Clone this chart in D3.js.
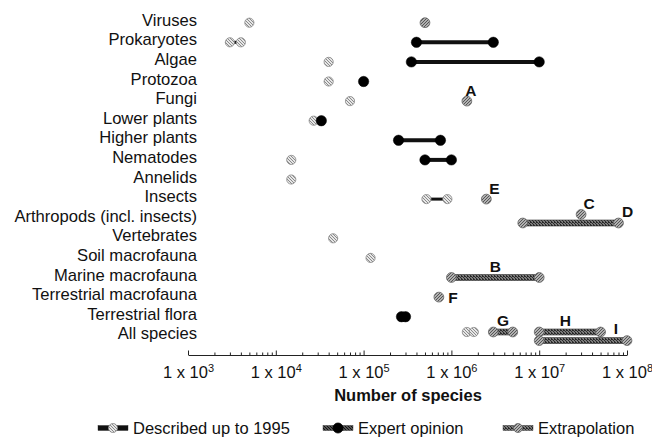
<!DOCTYPE html>
<html><head><meta charset="utf-8">
<script src="https://cdn.jsdelivr.net/npm/d3@7/dist/d3.min.js"></script>
<style>
html,body{margin:0;padding:0;background:#fff;}
svg{display:block;font-family:"Liberation Sans",Arial,Helvetica,sans-serif;}
</style></head>
<body><svg id="c" width="652" height="438"></svg>
<script>
// ---------------- data ----------------
const categories = ["Viruses","Prokaryotes","Algae","Protozoa","Fungi","Lower plants","Higher plants",
  "Nematodes","Annelids","Insects","Arthropods (incl. insects)","Vertebrates","Soil macrofauna",
  "Marine macrofauna","Terrestrial macrofauna","Terrestrial flora","All species"];
// [category, low, high, lane]  lane: 0 centre, -1 upper, 1 lower
const described = [
  ["Viruses",5000,5000,0],["Prokaryotes",3000,4000,0],["Algae",40000,40000,0],["Protozoa",40000,40000,0],
  ["Fungi",70000,70000,0],["Lower plants",27000,27000,0],["Nematodes",15000,15000,0],["Annelids",15000,15000,0],
  ["Insects",520000,900000,0],["Vertebrates",45000,45000,0],["Soil macrofauna",120000,120000,0],
  ["All species",1500000,1800000,-1]
];
const expert = [
  ["Prokaryotes",400000,3000000,0],["Algae",350000,10000000,0],["Protozoa",100000,100000,0],
  ["Lower plants",33000,33000,0],["Higher plants",250000,750000,0],["Nematodes",500000,1000000,0],
  ["Terrestrial flora",270000,300000,0]
];
const extrapolation = [
  ["Viruses",500000,500000,0],["Fungi",1500000,1500000,0],["Insects",2500000,2500000,0],
  ["Arthropods (incl. insects)",30000000,30000000,-1],["Arthropods (incl. insects)",6500000,80000000,1],
  ["Marine macrofauna",1000000,10000000,0],["Terrestrial macrofauna",720000,720000,0],
  ["All species",3000000,5000000,-1],["All species",10000000,50000000,-1],["All species",10000000,100000000,1]
];
// letter annotations: [letter, category, value the letter refers to, lane]
const annotations = [
  ["A","Fungi",1500000,0],["E","Insects",2500000,0],["C","Arthropods (incl. insects)",30000000,-1],
  ["D","Arthropods (incl. insects)",80000000,1],["B","Marine macrofauna",3160000,0],
  ["F","Terrestrial macrofauna",720000,0],["G","All species",3870000,-1],["H","All species",22000000,-1],
  ["I","All species",100000000,1]
];
const tickValues = [1e3,1e4,1e5,1e6,1e7,1e8];
const tickExponents = ["3","4","5","6","7","8"];
const axisTitle = "Number of species";
const legendLabels = ["Described up to 1995","Expert opinion","Extrapolation"];

// ---------------- layout ----------------
const svg = d3.select("#c");
const x = d3.scaleLog().domain([1e3,1e8]).range([188,627]);
const y = d3.scalePoint().domain(categories).range([22.7,336.3]);
const laneOff = 4.3;
const yy = (cat,lane) => y(cat) + lane*laneOff;

// patterns
const defs = svg.append("defs");
function pat(id, bg, fg, cells){
  const p = defs.append("pattern").attr("id",id).attr("width",3).attr("height",3).attr("patternUnits","userSpaceOnUse");
  p.append("rect").attr("width",3).attr("height",3).attr("fill",bg);
  cells.forEach(c=>p.append("rect").attr("x",c[0]).attr("y",c[1]).attr("width",1).attr("height",1).attr("fill",fg));
}
pat("pDesc","#e6e6e6","#8a8a8a",[[0,0],[1,1],[2,2]]);
pat("pExt","#b0b0b0","#555",[[0,0],[2,1],[1,2]]);
pat("pBar","#7a7a7a","#2a2a2a",[[0,0],[1,1],[2,2],[2,0]]);
pat("pLeg","#555","#111",[[0,0],[1,1],[2,2]]);

const g = svg.append("g");

// category labels
g.selectAll("text.cat").data(categories).join("text").attr("class","cat")
  .attr("x",197).attr("y",d=>y(d)+3).attr("text-anchor","end")
  .attr("font-size",16.6).attr("fill","#111").text(d=>d);

// axis
const axisY = 355;
const minor = [];
for(let e=3;e<8;e++) for(let m=2;m<=9;m++) minor.push(m*Math.pow(10,e));
const ax = g.append("g").attr("transform",`translate(0,${axisY})`);
ax.call(d3.axisBottom(x).tickValues(minor).tickSize(-2.5).tickSizeOuter(0).tickFormat(""));
ax.selectAll("path,line").attr("stroke","#222");
const ax2 = g.append("g").attr("transform",`translate(0,${axisY})`);
ax2.call(d3.axisBottom(x).tickValues(tickValues).tickSize(-4.5).tickSizeOuter(0).tickPadding(11).tickFormat(""));
ax2.select("path").remove();
ax2.selectAll("line").attr("stroke","#222");
ax2.selectAll(".tick text").each(function(d,i){
  const t = d3.select(this).attr("font-size",16.5).attr("fill","#111")
    .attr("font-family",'"Liberation Sans",Arial,sans-serif');
  t.append("tspan").text("1 x 10");
  t.append("tspan").attr("font-size",11).attr("dy","-0.55em").text(tickExponents[i]);
});
g.append("text").attr("x",408).attr("y",401).attr("text-anchor","middle")
  .attr("font-size",16.5).attr("font-weight","bold").attr("fill","#111").text(axisTitle);

// ---------------- marks ----------------
function drawSeries(data, style){
  const s = g.append("g");
  const rng = data.filter(d=>d[1]!==d[2]);
  if(style.bar==="black"){
    s.selectAll("line").data(rng).join("line")
      .attr("x1",d=>x(d[1])).attr("x2",d=>x(d[2]))
      .attr("y1",d=>yy(d[0],d[3])).attr("y2",d=>yy(d[0],d[3]))
      .attr("stroke","#111").attr("stroke-width",style.barW);
  } else {
    s.selectAll("rect").data(rng).join("rect")
      .attr("x",d=>x(d[1])).attr("width",d=>x(d[2])-x(d[1]))
      .attr("y",d=>yy(d[0],d[3])-3).attr("height",6)
      .attr("fill","url(#pBar)").attr("stroke","#333").attr("stroke-width",0.6);
  }
  const pts = [];
  data.forEach(d=>{ pts.push([d[0],d[1],d[3]]); if(d[1]!==d[2]) pts.push([d[0],d[2],d[3]]); });
  s.selectAll("circle").data(pts).join("circle")
    .attr("cx",d=>x(d[1])).attr("cy",d=>yy(d[0],d[2])).attr("r",style.r)
    .attr("fill",style.fill).attr("stroke",style.stroke).attr("stroke-width",style.sw);
}
drawSeries(described,{bar:"black",barW:3,r:4.6,fill:"url(#pDesc)",stroke:"#888",sw:0.8});
drawSeries(expert,{bar:"black",barW:4,r:5.2,fill:"#000",stroke:"#000",sw:0.5});
drawSeries(extrapolation,{bar:"pat",r:4.9,fill:"url(#pExt)",stroke:"#666",sw:0.8});

// annotation letters (offsets relative to referenced value)
const annOff = {A:[4,-11],E:[8,-11],C:[8,-11],D:[9,-12],B:[0,-11],F:[14,0],G:[0,-12],H:[-4,-12],I:[-11,-12]};
g.selectAll("text.ann").data(annotations).join("text").attr("class","ann")
  .attr("x",d=>x(d[2])+annOff[d[0]][0]).attr("y",d=>yy(d[1],d[3])+annOff[d[0]][1]+5.5)
  .attr("text-anchor","middle").attr("font-size",15.5).attr("font-weight","bold").attr("fill","#111")
  .text(d=>d[0]);

// ---------------- legend ----------------
const legY = 428;
const legX = [98,323,503];
const symW = 30;
const lg = g.selectAll("g.leg").data(legendLabels).join("g").attr("class","leg")
  .attr("transform",(d,i)=>`translate(${legX[i]},${legY})`);
lg.each(function(d,i){
  const e = d3.select(this);
  e.append("rect").attr("x",0).attr("y",-2.5).attr("width",symW).attr("height",5)
    .attr("fill",i===0?"#111":i===1?"url(#pLeg)":"url(#pBar)").attr("stroke","#222").attr("stroke-width",0.4);
  e.append("circle").attr("cx",symW/2).attr("cy",0).attr("r",i===1?5:4.5)
    .attr("fill",i===0?"url(#pDesc)":i===1?"#000":"url(#pExt)")
    .attr("stroke",i===0?"#888":i===1?"#000":"#666").attr("stroke-width",0.8);
  e.append("text").attr("x",symW+5).attr("y",5.5).attr("font-size",16.5).attr("fill","#111").text(d);
});
</script></body></html>
